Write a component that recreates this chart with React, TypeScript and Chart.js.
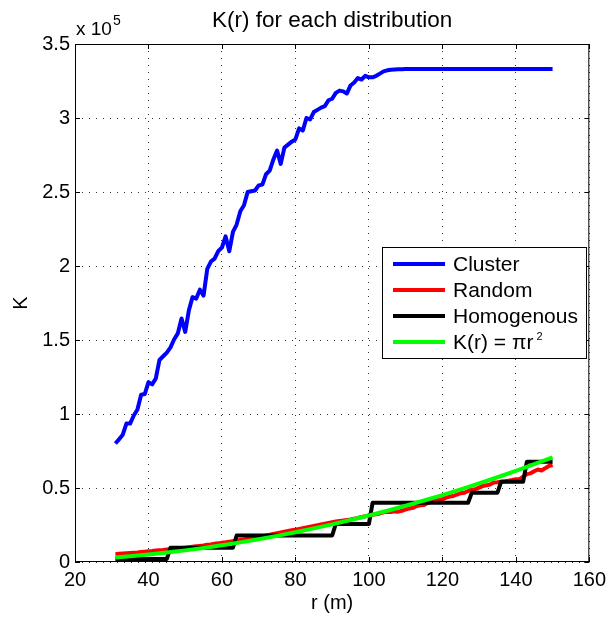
import React, { useEffect, useRef } from "react";
import { Chart, registerables } from "chart.js";

Chart.register(...registerables);

const FONT = "'Liberation Sans', Arial, Helvetica, sans-serif";

// r values (m), sampled every metre
const rValues: number[] = Array.from({ length: 120 }, (_, i) => 31 + i);

const clusterK: number[] = [
  80000, 83000, 86000, 93500, 93500, 99000, 103000, 113000, 113500, 121500,
  120000, 124000, 136500, 139000, 141500, 145000, 150500, 154500, 164500, 155500,
  170000, 179000, 178000, 184000, 180000, 198000, 203000, 205000, 210000, 212500,
  220000, 210000, 223000, 228000, 237000, 241000, 250000, 250500, 251000, 254500,
  255000, 262000, 264500, 272000, 278000, 269000, 280000, 282000, 284000, 285500,
  293000, 291500, 300000, 299000, 304000, 305500, 307000, 308000, 312000, 313000,
  317000, 318500, 318000, 316500, 322000, 324000, 327000, 326000, 328500, 327500,
  327500, 328500, 330000, 331500, 332200, 332600, 332800, 332900, 333000,
  333100, 333100, 333100, 333100, 333100, 333100, 333100, 333100, 333100, 333100,
  333100, 333100, 333100, 333100, 333100, 333100, 333100, 333100, 333100, 333100,
  333100, 333100, 333100, 333100, 333100, 333100, 333100, 333100, 333100, 333100,
  333100, 333100, 333100, 333100, 333100, 333100, 333100, 333100, 333100, 333100,
  333100,
];

const randomK: number[] = [
  5300, 5500, 5700, 5900, 6100, 6300, 6500, 6800, 7000, 7200,
  7400, 7700, 7900, 8100, 8400, 8700, 8900, 9200, 9400, 9700,
  10000, 10300, 10600, 10900, 11200, 11600, 11900, 12300, 12600, 13000,
  13300, 13700, 14100, 14500, 14900, 15300, 15800, 16200, 16600, 17100,
  17500, 18000, 18400, 18900, 19400, 19900, 20400, 20900, 21400, 21900,
  22400, 22900, 23400, 23900, 24400, 24900, 25400, 25900, 26400, 26900,
  27300, 27700, 28000, 28400, 28800, 29300, 29800, 30400, 30900, 31400,
  31900, 32300, 32800, 33600, 34000, 33800, 34200, 34000, 34600, 35500,
  36200, 36600, 37800, 38300, 38500, 39800, 40700, 41800, 42200, 42300,
  43500, 44200, 44600, 45600, 46500, 46800, 48000, 48900, 49200, 50300,
  51400, 51800, 52400, 53700, 53900, 54300, 54600, 55000, 55400, 55900,
  56000, 57600, 59400, 59900, 61300, 62500, 61800, 63400, 64900, 65500,
];

const homogenousK: number[] = [
  2100, 2100, 2100, 2100, 2100, 2100, 2100, 2100, 2100, 2100, 2100, 2100, 2100, 2100, 2100,
  9700, 9700, 9700, 9700, 9700, 9700, 9700, 9700, 9700, 9700, 9700, 9700, 9700, 9700, 9700, 9700, 9700, 9700,
  17900, 17900, 17900, 17900, 17900, 17900, 17900, 17900, 17900, 17900, 17900, 17900, 17900, 17900,
  17900, 17900, 17900, 17900, 17900, 17900, 17900, 17900, 17900, 17900, 17900, 17900, 17900,
  25700, 25700, 25700, 25700, 25700, 25700, 25700, 25700, 25700, 25700,
  40000, 40000, 40000, 40000, 40000, 40000, 40000, 40000, 40000, 40000, 40000, 40000, 40000, 40000,
  40000, 40000, 40000, 40000, 40000, 40000, 40000, 40000, 40000, 40000, 40000, 40000, 40000,
  46800, 46800, 46800, 46800, 46800, 46800, 46800, 46800,
  54300, 54300, 54300, 54300, 54300, 54300, 54300,
  67800, 67800, 67800, 67800, 67800, 67800, 67800, 67800,
];

const theoryR: number[] = [31, 35, 40, 45, 50, 55, 60, 65, 70, 75, 80, 85, 90, 95, 100, 105, 110, 115, 120, 125, 130, 135, 140, 145, 150];
const theoryK: number[] = [3019, 3848, 5027, 6362, 7854, 9503, 11310, 13273, 15394, 17671, 20106, 22698, 25447, 28353, 31416, 34636, 38013, 41548, 45239, 49087, 53093, 57256, 61575, 66052, 70686];

const xTicks: number[] = [20, 40, 60, 80, 100, 120, 140, 160];
const yTicks: number[] = [0, 50000, 100000, 150000, 200000, 250000, 300000, 350000];

const seriesNames = ["Cluster", "Random", "Homogenous", "K(r) = \u03c0r"];
const seriesColors = ["#0000ff", "#ff0000", "#000000", "#00ff00"];

const pair = (xs: number[], ys: number[]) => ys.map((v, i) => ({ x: xs[i], y: v }));

const decorPlugin = {
  id: "decor",
  afterDraw(chart: any) {
    const { ctx, chartArea: a, scales } = chart;
    const sx = scales.x;
    const sy = scales.y;
    ctx.save();
    // axes box
    ctx.strokeStyle = "#000";
    ctx.lineWidth = 1;
    ctx.setLineDash([]);
    ctx.strokeRect(a.left + 0.5, a.top + 0.5, a.right - a.left - 1, a.bottom - a.top - 1);
    // inward ticks
    const tl = 5;
    ctx.beginPath();
    xTicks.forEach((v) => {
      const p = Math.round(sx.getPixelForValue(v)) + 0.5;
      ctx.moveTo(p, a.bottom);
      ctx.lineTo(p, a.bottom - tl);
      ctx.moveTo(p, a.top);
      ctx.lineTo(p, a.top + tl);
    });
    yTicks.forEach((v) => {
      const p = Math.round(sy.getPixelForValue(v)) + 0.5;
      ctx.moveTo(a.left, p);
      ctx.lineTo(a.left + tl, p);
      ctx.moveTo(a.right, p);
      ctx.lineTo(a.right - tl, p);
    });
    ctx.stroke();

    ctx.fillStyle = "#000";
    // title
    ctx.font = `22.5px ${FONT}`;
    ctx.textAlign = "center";
    ctx.textBaseline = "alphabetic";
    ctx.fillText("K(r) for each distribution", (a.left + a.right) / 2, 27);

    // exponent label
    ctx.textAlign = "left";
    ctx.font = `19px ${FONT}`;
    ctx.fillText("x 10", a.left + 1, 35);
    const w10 = ctx.measureText("x 10").width;
    ctx.font = `14px ${FONT}`;
    ctx.fillText("5", a.left + 1 + w10 + 1, 25);

    // axis titles
    ctx.font = `20px ${FONT}`;
    ctx.textAlign = "center";
    ctx.textBaseline = "middle";
    ctx.fillText("r (m)", (a.left + a.right) / 2, 603);
    ctx.save();
    ctx.translate(21, 303);
    ctx.rotate(-Math.PI / 2);
    ctx.fillText("K", 0, 0);
    ctx.restore();

    // legend
    const lx = 382, ly = 247, lw = 204, lh = 111;
    ctx.fillStyle = "#fff";
    ctx.fillRect(lx, ly, lw, lh);
    ctx.strokeStyle = "#000";
    ctx.lineWidth = 1;
    ctx.strokeRect(lx + 0.5, ly + 0.5, lw, lh);
    const rowY = [264, 290, 316, 342];
    seriesNames.forEach((name, i) => {
      ctx.strokeStyle = seriesColors[i];
      ctx.lineWidth = 4;
      ctx.beginPath();
      ctx.moveTo(393, rowY[i]);
      ctx.lineTo(445, rowY[i]);
      ctx.stroke();
      ctx.fillStyle = "#000";
      ctx.font = `21px ${FONT}`;
      ctx.textAlign = "left";
      ctx.textBaseline = "middle";
      ctx.fillText(name, 453, rowY[i] + 1);
      if (i === 3) {
        const w = ctx.measureText(name).width;
        ctx.font = `11px ${FONT}`;
        ctx.fillText("2", 453 + w + 3, rowY[i] - 5);
      }
    });
    ctx.restore();
  },
};

export default function App() {
  const ref = useRef<HTMLCanvasElement | null>(null);
  useEffect(() => {
    document.body.style.margin = "0";
    const canvas = ref.current;
    if (!canvas) return;
    const lineDs = (label: string, data: any[], color: string, order: number) => ({
      label,
      data,
      borderColor: color,
      backgroundColor: color,
      borderWidth: 4,
      pointRadius: 0,
      tension: 0,
      fill: false,
      borderJoinStyle: "round" as const,
      borderCapStyle: "butt" as const,
      order,
    });
    const chart = new Chart(canvas, {
      type: "line",
      data: {
        datasets: [
          lineDs(seriesNames[0], pair(rValues, clusterK), seriesColors[0], 4),
          lineDs(seriesNames[1], pair(rValues, randomK), seriesColors[1], 3),
          lineDs(seriesNames[2], pair(rValues, homogenousK), seriesColors[2], 2),
          lineDs(seriesNames[3], pair(theoryR, theoryK), seriesColors[3], 1),
        ],
      },
      options: {
        animation: false,
        responsive: false,
        devicePixelRatio: 1,
        layout: { padding: { top: 44, right: 19, left: 0, bottom: 0 } },
        plugins: {
          legend: { display: false },
          title: { display: false },
          tooltip: { enabled: false },
        },
        scales: {
          x: {
            type: "linear",
            min: 20,
            max: 160,
            afterFit: (s: any) => {
              s.height = 55;
            },
            afterBuildTicks: (s: any) => {
              s.ticks = xTicks.map((v) => ({ value: v }));
            },
            ticks: {
              color: "#000",
              font: { family: FONT, size: 20 },
              padding: 6,
              maxRotation: 0,
              autoSkip: false,
            },
            grid: { color: "rgba(0,0,0,0.8)", lineWidth: 1, drawTicks: false },
            border: { display: false, dash: [1, 6] },
          },
          y: {
            type: "linear",
            min: 0,
            max: 350000,
            afterFit: (s: any) => {
              s.width = 75;
            },
            afterBuildTicks: (s: any) => {
              s.ticks = yTicks.map((v) => ({ value: v }));
            },
            ticks: {
              color: "#000",
              font: { family: FONT, size: 20 },
              padding: 5,
              autoSkip: false,
              callback: (v: any) => String(Number(v) / 100000),
            },
            grid: { color: "rgba(0,0,0,0.8)", lineWidth: 1, drawTicks: false },
            border: { display: false, dash: [1, 6] },
          },
        },
      },
      plugins: [decorPlugin],
    });
    return () => chart.destroy();
  }, []);
  return (
    <div style={{ width: 612, height: 617, background: "#fff" }}>
      <canvas ref={ref} width={612} height={617} style={{ display: "block", width: 612, height: 617 }} />
    </div>
  );
}
